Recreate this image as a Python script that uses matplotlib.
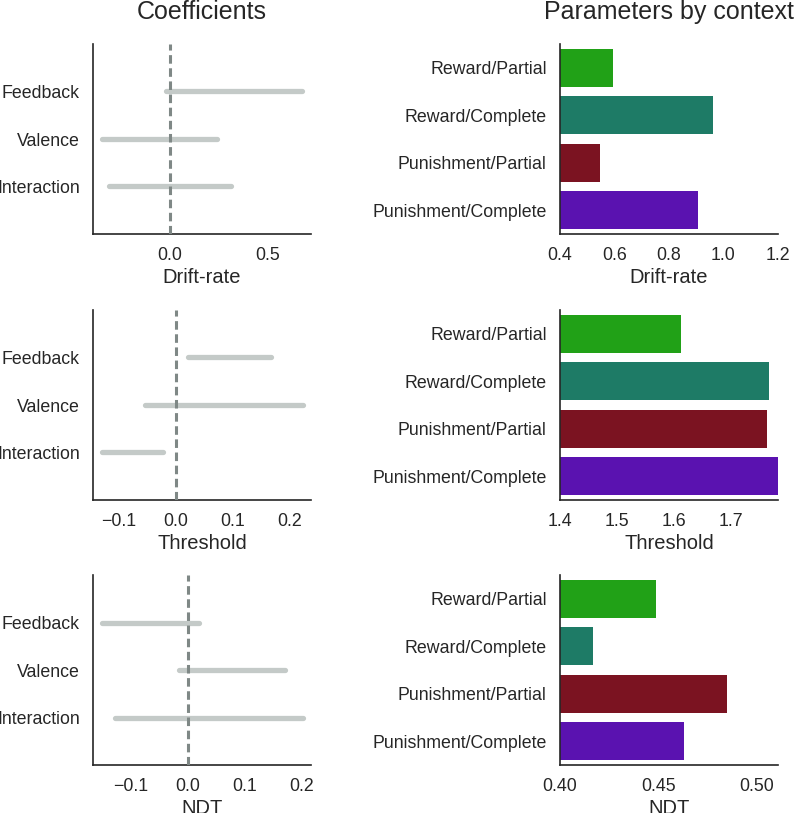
import matplotlib
matplotlib.use("Agg")
import matplotlib.pyplot as plt
import numpy as np

plt.rcParams['font.family'] = ['Liberation Sans', 'DejaVu Sans']

# Coefficients (interval lows / highs)
coef_terms = ["Feedback", "Valence", "Interaction"]
drift_lo = [-0.02, -0.347, -0.311]
drift_hi = [0.673, 0.24, 0.311]
thresh_lo = [0.021, -0.054, -0.130]
thresh_hi = [0.167, 0.223, -0.023]
ndt_lo = [-0.151, -0.016, -0.128]
ndt_hi = [0.019, 0.170, 0.202]

# Parameters by context
contexts = ["Reward/Partial", "Reward/Complete", "Punishment/Partial", "Punishment/Complete"]
ctx_colors = ["#21a117", "#1e7b66", "#7b1321", "#5a12b0"]
drift_vals = [0.595, 0.962, 0.547, 0.907]
thresh_vals = [1.612, 1.767, 1.763, 1.79]
ndt_vals = [0.449, 0.417, 0.485, 0.463]

labels = ["Drift-rate", "Threshold", "NDT"]
coef_lo = [drift_lo, thresh_lo, ndt_lo]
coef_hi = [drift_hi, thresh_hi, ndt_hi]
ctx_vals = [drift_vals, thresh_vals, ndt_vals]
coef_xlim = [(-0.393, 0.719), (-0.146, 0.237), (-0.167, 0.216)]
coef_ticks = [[0.0, 0.5], [-0.1, 0.0, 0.1, 0.2], [-0.1, 0.0, 0.1, 0.2]]
ctx_xlim = [(0.4, 1.2), (1.4, 1.782), (0.4, 0.511)]
ctx_ticks = [[0.4, 0.6, 0.8, 1.0, 1.2], [1.4, 1.5, 1.6, 1.7], [0.40, 0.45, 0.50]]
ctx_fmt = ["{:.1f}", "{:.1f}", "{:.2f}"]
coef_fmt = ["{:.1f}", "{:.1f}", "{:.1f}"]

W, H = 798, 813
fig = plt.figure(figsize=(W / 100, H / 100), dpi=100)

rows = [(44, 234), (310, 500), (575, 765)]
left_x = (93, 311)
right_x = (560, 778)

text_color = "#262626"
tick_fs = 12.8
label_fs = 14.5
title_fs = 18

for i, (top, bot) in enumerate(rows):
    # Left: coefficients
    ax = fig.add_axes([left_x[0] / W, 1 - bot / H, (left_x[1] - left_x[0]) / W, (bot - top) / H])
    y = np.arange(len(coef_terms))
    for yy, lo, hi in zip(y, coef_lo[i], coef_hi[i]):
        ax.plot([lo, hi], [yy, yy], color="#c4cac8", lw=3.8, solid_capstyle="round", zorder=2)
    ax.axvline(0, color="#7f8886", lw=2.2, ls=(0, (2.8, 1.5)), zorder=3)
    ax.set_ylim(3, -1)
    ax.set_xlim(*coef_xlim[i])
    ax.set_yticks(y)
    ax.set_yticklabels(coef_terms, fontsize=tick_fs, color=text_color)
    ax.set_xticks(coef_ticks[i])
    ax.set_xticklabels([coef_fmt[i].format(t).replace("-", "\u2212") for t in coef_ticks[i]],
                       fontsize=tick_fs, color=text_color)
    ax.tick_params(length=0, pad=9.5)
    ax.set_xlabel(labels[i], fontsize=label_fs, color=text_color, labelpad=3)
    for s in ["top", "right"]:
        ax.spines[s].set_visible(False)
    for s in ["left", "bottom"]:
        ax.spines[s].set_color("#262626")
        ax.spines[s].set_linewidth(1.2)
    if i == 0:
        ax.set_title("Coefficients", fontsize=title_fs, color=text_color, pad=18)

    # Right: parameters by context
    ax2 = fig.add_axes([right_x[0] / W, 1 - bot / H, (right_x[1] - right_x[0]) / W, (bot - top) / H])
    yc = np.arange(len(contexts))
    ax2.barh(yc, ctx_vals[i], height=0.8, color=ctx_colors, zorder=2)
    ax2.set_ylim(3.5, -0.5)
    ax2.set_xlim(*ctx_xlim[i])
    ax2.set_yticks(yc)
    ax2.set_yticklabels(contexts, fontsize=tick_fs, color=text_color)
    ax2.set_xticks(ctx_ticks[i])
    ax2.set_xticklabels([ctx_fmt[i].format(t) for t in ctx_ticks[i]], fontsize=tick_fs, color=text_color)
    ax2.tick_params(length=0, pad=9.5)
    ax2.set_xlabel(labels[i], fontsize=label_fs, color=text_color, labelpad=3)
    for s in ["top", "right"]:
        ax2.spines[s].set_visible(False)
    for s in ["left", "bottom"]:
        ax2.spines[s].set_color("#262626")
        ax2.spines[s].set_linewidth(1.2)
    if i == 0:
        ax2.set_title("Parameters by context", fontsize=title_fs, color=text_color, pad=18)

fig.savefig("out.png", dpi=100, facecolor="white")
